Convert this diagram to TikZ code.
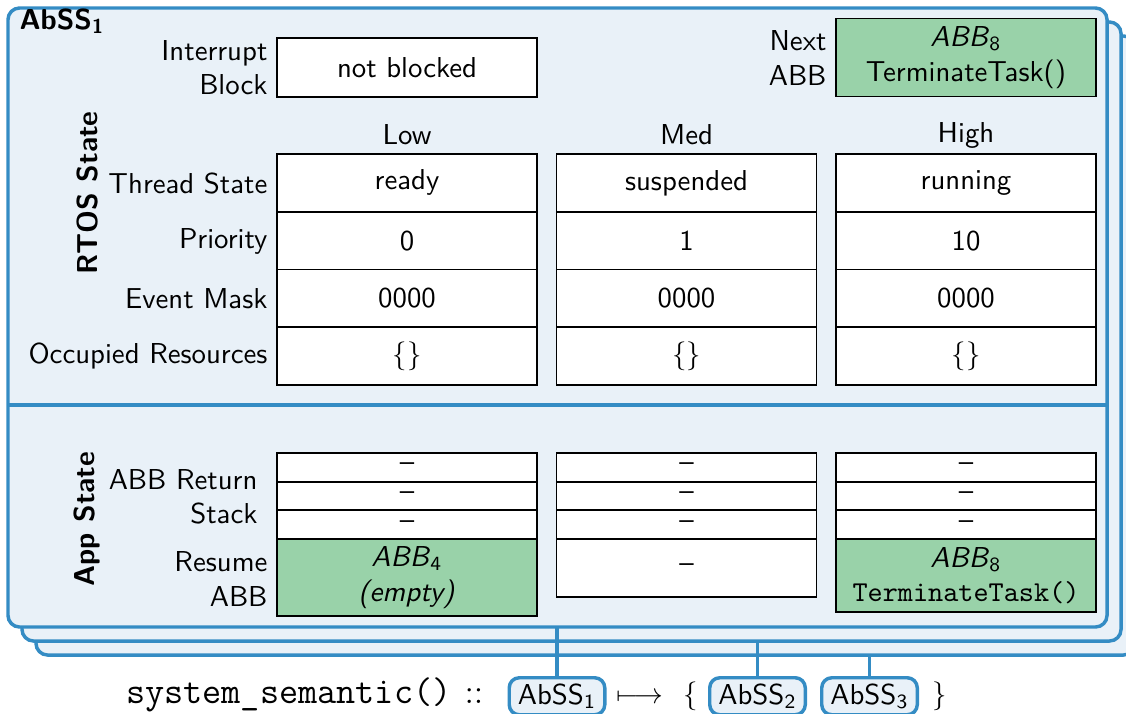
\documentclass[tikz,border=0pt]{standalone}
\usepackage{amsmath}
\newlength\unitpx
\setlength\unitpx{0.3472pt}
\definecolor{frameblue}{HTML}{348CC4}
\definecolor{panelfill}{HTML}{E9F1F8}
\definecolor{abbgreen}{HTML}{99D2A9}

\begin{document}
\begin{tikzpicture}[x=\unitpx, y=-\unitpx, font=\sffamily,
  layer/.style={draw=frameblue, fill=panelfill, line width=1.2pt, rounded corners=4pt,
    inner sep=0pt, outer sep=0pt, anchor=north west,
    minimum width=1099\unitpx, minimum height=619\unitpx},
  cell/.style={draw=black, line width=0.6pt, fill=white, minimum width=260\unitpx,
    inner sep=0pt, outer sep=0pt, align=center},
  greencell/.style={cell, fill=abbgreen},
  rowlabel/.style={anchor=east, align=right, inner sep=0pt},
  colhead/.style={inner sep=0pt},
  section/.style={rotate=90, font=\sffamily\bfseries, inner sep=0pt},
  statenode/.style={draw=frameblue, fill=panelfill, line width=1.2pt, rounded corners=3.5pt,
    inner xsep=3pt, inner ysep=0pt, minimum height=37\unitpx, anchor=north},
  link/.style={draw=frameblue, line width=1.2pt},
  divider/.style={draw=frameblue, line width=1.2pt}]

\useasboundingbox (0,0) rectangle (1126,713);

% stacked abstract system states, back to front
\node[layer] (layerC) at (36,36) {};
\node[layer] (layerB) at (22,22) {};
\node[layer] (layerA) at (8,8) {};

\node[anchor=base west, font=\sffamily\bfseries, inner sep=0pt] (title) at (19,29) {AbSS\textsubscript{1}};

% RTOS / App divider
\coordinate (divy) at (0,405);
\draw[divider] (layerA.west |- divy) -- (layerA.east |- divy);

% interrupt block and next ABB
\node[rowlabel] (irqlabel) at (268,67.5) {Interrupt\\Block};
\node[cell, minimum height=59\unitpx] (irq) at (407,67.5) {not blocked};
\node[rowlabel] (nextlabel) at (827,58) {Next\\ABB};
\node[greencell, minimum height=78\unitpx] (next) at (966,57.5)
  {\textit{ABB}\textsubscript{8}\\TerminateTask()};

% section titles
\node[section] (rtos) at (88,193) {RTOS State};
\node[section] (app) at (87,519) {App State};

% RTOS state rows
\node[rowlabel] (lthread) at (268,183) {Thread State};
\node[rowlabel] (lprio) at (268,241) {Priority};
\node[rowlabel] (levent) at (268,299) {Event Mask};
\node[rowlabel] (lres) at (268,356) {Occupied Resources};

\foreach \col/\x/\name/\st/\pr in {low/407/Low/ready/0, med/686.5/Med/suspended/1, high/966/High/running/10}{
  \node[colhead] (\col-head) at (\x,135) {\name};
  \node[cell, minimum height=57.75\unitpx] (\col-thread) at (\x,182.9) {\st};
  \node[cell, minimum height=57.75\unitpx] (\col-prio) at (\x,240.6) {\pr};
  \node[cell, minimum height=57.75\unitpx] (\col-event) at (\x,298.4) {0000};
  \node[cell, minimum height=57.75\unitpx] (\col-res) at (\x,356.1) {$\{\}$};
  % ABB return stack
  \node[cell, minimum height=28.67\unitpx] (\col-stack1) at (\x,467.3) {--};
  \node[cell, minimum height=28.67\unitpx] (\col-stack2) at (\x,496) {--};
  \node[cell, minimum height=28.67\unitpx] (\col-stack3) at (\x,524.7) {--};
}

% App state rows
\node[rowlabel] (lstack) at (258,497) {ABB Return\\Stack};
\node[rowlabel] (lresume) at (268,579) {Resume\\ABB};
\node[greencell, minimum height=77\unitpx] (low-resume) at (407,577.5)
  {\textit{ABB}\textsubscript{4}\\\textit{(empty)}};
\node[cell, minimum height=58\unitpx] (med-resume) at (686.5,568) {--};
\node[greencell, minimum height=73\unitpx] (high-resume) at (966,575.5)
  {\textit{ABB}\textsubscript{8}\\\texttt{TerminateTask()}};

% semantic function line
\node[anchor=base east, inner sep=0pt, font=\fontsize{12.9}{15.5}\selectfont\ttfamily] (sig) at (452,703) {system\_semantic()};
\node[anchor=base, inner sep=0pt, font=\large] (colons) at (474,703) {$::$};
\node[statenode] (s1) at (557,676) {AbSS\textsubscript{1}};
\node[anchor=base, inner sep=0pt] (maps) at (640,703) {$\longmapsto$};
\node[anchor=base, inner sep=0pt] (lbrace) at (691,703) {$\{$};
\node[statenode] (s2) at (757.5,676) {AbSS\textsubscript{2}};
\node[statenode] (s3) at (869.5,676) {AbSS\textsubscript{3}};
\node[anchor=base, inner sep=0pt] (rbrace) at (940,703) {$\}$};

\draw[link] (s1.north) -- (s1.north |- layerA.south);
\draw[link] (s2.north) -- (s2.north |- layerB.south);
\draw[link] (s3.north) -- (s3.north |- layerC.south);
\end{tikzpicture}
\end{document}
